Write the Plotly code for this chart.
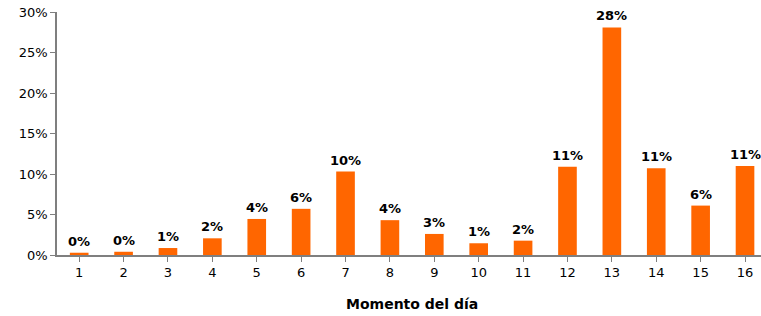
import plotly.graph_objects as go

categories = [str(i) for i in range(1, 17)]
values = [0.28, 0.4, 0.86, 2.06, 4.45, 5.7, 10.3, 4.3, 2.6, 1.45, 1.77, 10.9, 28.1, 10.7, 6.1, 11.0]
x_title = "Momento del día"
y_ticks = [0, 5, 10, 15, 20, 25, 30]
y_ticklabels = [f"{t}%" for t in y_ticks]

font_family = "DejaVu Sans, Verdana, sans-serif"
axis_color = "#7f7f7f"

fig = go.Figure()
fig.add_trace(go.Bar(
    x=list(range(1, 17)),
    y=values,
    marker=dict(color="#FF6600", line=dict(width=0)),
    width=0.42,
    showlegend=False,
    hoverinfo="skip",
))

for i, v in enumerate(values):
    fig.add_annotation(
        x=i + 1, y=v, text=f"<b>{round(v):d}%</b>", showarrow=False,
        yanchor="bottom", yshift=2, xref="x", yref="y",
        font=dict(family=font_family, size=13, color="#000000"),
    )

fig.add_annotation(
    x=0.504, y=-0.2, xref="paper", yref="paper", text=f"<b>{x_title}</b>",
    showarrow=False, yanchor="middle",
    font=dict(family=font_family, size=14, color="#000000"),
)

fig.update_layout(
    width=761, height=316,
    margin=dict(l=57, r=0, t=12, b=61, autoexpand=False),
    paper_bgcolor="white", plot_bgcolor="white",
    font=dict(family=font_family, size=13, color="#000000"),
)
fig.update_xaxes(
    range=[0.5, 16.36], automargin=False,
    tickmode="array", tickvals=list(range(1, 17)), ticktext=categories,
    ticks="outside", ticklen=5, tickcolor=axis_color, tickson="boundaries",
    showline=True, linecolor=axis_color, linewidth=1.5,
    showgrid=False, zeroline=False,
    tickfont=dict(size=13),
)
fig.update_yaxes(
    range=[0, 30], automargin=False,
    tickmode="array", tickvals=y_ticks, ticktext=y_ticklabels,
    ticks="outside", ticklen=5, tickcolor=axis_color,
    showline=True, linecolor=axis_color, linewidth=1.5,
    showgrid=False, zeroline=False,
    tickfont=dict(size=13),
)

fig.write_html(
    "out.html",
    config={"displayModeBar": False},
    post_script="document.body.style.margin='0';document.body.style.overflow='hidden';",
)
